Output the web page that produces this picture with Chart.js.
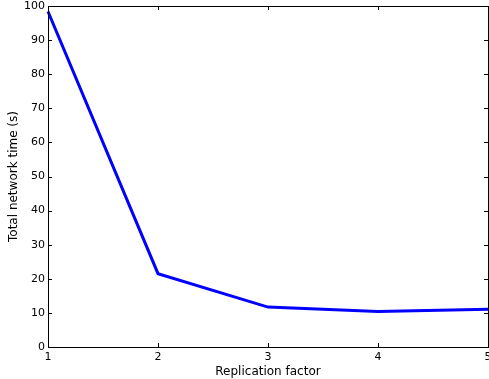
<!DOCTYPE html>
<html>
<head>
<meta charset="utf-8">
<script src="https://cdn.jsdelivr.net/npm/chart.js@4/dist/chart.umd.min.js"></script>
<style>
html,body{margin:0;padding:0;background:#fff;}
#wrap{width:489px;height:379px;position:relative;}
</style>
</head>
<body>
<div id="wrap"><canvas id="c" width="489" height="379"></canvas></div>
<script>
const replicationFactors = [1, 2, 3, 4, 5];
const networkTimes = [98.4, 21.5, 11.7, 10.4, 11.1];
const xTicks = [1, 2, 3, 4, 5];
const yTicks = [0, 10, 20, 30, 40, 50, 60, 70, 80, 90, 100];

const FONT = {family: 'DejaVu Sans', size: 11};
const TFONT = {family: 'DejaVu Sans', size: 12};

const frameTicks = {
  id: 'frameTicks',
  afterDatasetsDraw(chart) {
    const {ctx, chartArea: a, scales} = chart;
    ctx.save();
    ctx.strokeStyle = '#000';
    ctx.lineWidth = 1;
    const L = 4;
    ctx.beginPath();
    xTicks.forEach(v => {
      const px = Math.round(scales.x.getPixelForValue(v)) + 0.5;
      ctx.moveTo(px, a.bottom); ctx.lineTo(px, a.bottom - L);
      ctx.moveTo(px, a.top); ctx.lineTo(px, a.top + L);
    });
    yTicks.forEach(v => {
      const py = Math.round(scales.y.getPixelForValue(v)) + 0.5;
      ctx.moveTo(a.left, py); ctx.lineTo(a.left + L, py);
      ctx.moveTo(a.right, py); ctx.lineTo(a.right - L, py);
    });
    ctx.stroke();
    ctx.strokeRect(Math.round(a.left) + 0.5, Math.round(a.top) + 0.5,
                   Math.round(a.right - a.left), Math.round(a.bottom - a.top));
    ctx.restore();
  }
};

new Chart(document.getElementById('c'), {
  type: 'line',
  data: {
    datasets: [{
      data: replicationFactors.map((x, i) => ({x, y: networkTimes[i]})),
      borderColor: '#0000ff',
      borderWidth: 3,
      pointRadius: 0,
      tension: 0,
      fill: false,
      clip: false
    }]
  },
  options: {
    responsive: false,
    animation: false,
    devicePixelRatio: 1,
    layout: {padding: {top: 6, right: 1, left: 0, bottom: 0}},
    plugins: {legend: {display: false}, tooltip: {enabled: false}},
    scales: {
      x: {
        type: 'linear', min: 1, max: 5,
        afterBuildTicks(s) { s.ticks = xTicks.map(v => ({value: v})); },
        ticks: {color: '#000', font: FONT, padding: 4, maxRotation: 0,
                callback: v => String(v)},
        grid: {display: false, drawTicks: false},
        border: {display: false},
        title: {display: true, text: 'Replication factor', color: '#000', font: TFONT,
                padding: {top: 0, bottom: 0}},
        afterFit(s) { s.height = 32; s.paddingLeft = 0; s.paddingRight = 0; }
      },
      y: {
        type: 'linear', min: 0, max: 100,
        afterBuildTicks(s) { s.ticks = yTicks.map(v => ({value: v})); },
        ticks: {color: '#000', font: FONT, padding: 3, callback: v => String(v)},
        grid: {display: false, drawTicks: false},
        border: {display: false},
        title: {display: true, text: 'Total network time (s)', color: '#000', font: TFONT,
                padding: {top: 7, bottom: 4}},
        afterFit(s) { s.width = 48; s.paddingTop = 0; s.paddingBottom = 0; }
      }
    }
  },
  plugins: [frameTicks]
});
</script>
</body>
</html>
